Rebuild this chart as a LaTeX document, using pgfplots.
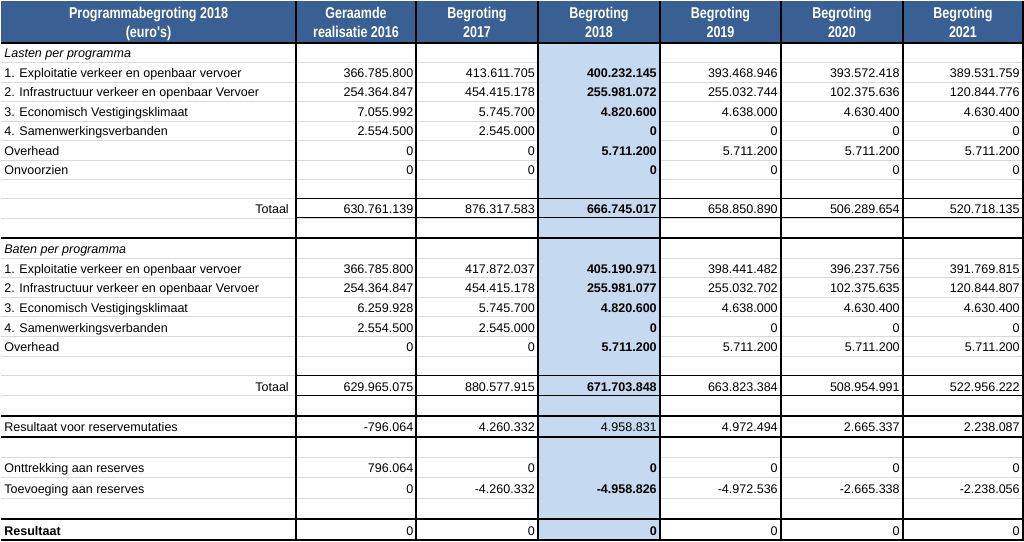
\documentclass[border=0pt]{standalone}
\usepackage{fontspec}
\setmainfont{Liberation Sans}
\usepackage{pgfplots}
\usepackage{pgfplotstable}
\pgfplotsset{compat=1.18}
\definecolor{hdr}{HTML}{3A6093}
\definecolor{blu}{HTML}{C5D9F1}
\definecolor{grd}{HTML}{D9D9D9}

% value rows: y = row centre (px), columns 2016 ... 2021
\pgfplotstableread[col sep=comma]{
y,a,b,c,d,e,f
71,366.785.800,413.611.705,\textbf{400.232.145},393.468.946,393.572.418,389.531.759
90.5,254.364.847,454.415.178,\textbf{255.981.072},255.032.744,102.375.636,120.844.776
110,7.055.992,5.745.700,\textbf{4.820.600},4.638.000,4.630.400,4.630.400
129.5,2.554.500,2.545.000,\textbf{0},0,0,0
149,0,0,\textbf{5.711.200},5.711.200,5.711.200,5.711.200
168.5,0,0,\textbf{0},0,0,0
207.5,630.761.139,876.317.583,\textbf{666.745.017},658.850.890,506.289.654,520.718.135
267,366.785.800,417.872.037,\textbf{405.190.971},398.441.482,396.237.756,391.769.815
286.5,254.364.847,454.415.178,\textbf{255.981.077},255.032.702,102.375.635,120.844.807
306,6.259.928,5.745.700,\textbf{4.820.600},4.638.000,4.630.400,4.630.400
326,2.554.500,2.545.000,\textbf{0},0,0,0
345.5,0,0,\textbf{5.711.200},5.711.200,5.711.200,5.711.200
385,629.965.075,880.577.915,\textbf{671.703.848},663.823.384,508.954.991,522.956.222
425.5,-796.064,4.260.332,4.958.831,4.972.494,2.665.337,2.238.087
466.5,796.064,0,\textbf{0},0,0,0
487,0,-4.260.332,\textbf{-4.958.826},-4.972.536,-2.665.338,-2.238.056
529,0,0,\textbf{0},0,0,0
}\vals

\pgfplotstableread[col sep=comma]{
y,t
51.7,\textit{Lasten per programma}
71,1. Exploitatie verkeer en openbaar vervoer
90.5,2. Infrastructuur verkeer en openbaar Vervoer
110,3. Economisch Vestigingsklimaat
129.5,4. Samenwerkingsverbanden
149,Overhead
168.5,Onvoorzien
247,\textit{Baten per programma}
267,1. Exploitatie verkeer en openbaar vervoer
286.5,2. Infrastructuur verkeer en openbaar Vervoer
306,3. Economisch Vestigingsklimaat
326,4. Samenwerkingsverbanden
345.5,Overhead
425.5,Resultaat voor reservemutaties
466.5,Onttrekking aan reserves
487,Toevoeging aan reserves
529,\textbf{Resultaat}
}\labs

\pgfplotstableread[col sep=comma]{
y,t
207.5,Totaal
385,Totaal
}\tots

\pgfplotstableread[col sep=comma]{
x,y,t
147.5,11.5,Programmabegroting 2018
147.5,30.5,(euro\textquotesingle s)
355,11.5,Geraamde
355,30.5,realisatie 2016
476,11.5,Begroting
476,30.5,2017
598,11.5,Begroting
598,30.5,2018
719.5,11.5,Begroting
719.5,30.5,2019
841,11.5,Begroting
841,30.5,2020
962,11.5,Begroting
962,30.5,2021
}\hdrs

\begin{document}
\begin{tikzpicture}
\begin{axis}[
  width=768pt, height=405pt, scale only axis,
  xmin=0, xmax=1024, ymin=0, ymax=540, y dir=reverse,
  hide axis, clip=false,
  nodes near coords={\scalebox{1}[1.15]{\pgfplotspointmeta}},
  every node near coord/.append style={font=\fontsize{9.4}{11}\selectfont,
     inner sep=0pt, text height=7.8pt, text depth=0pt, text=black},
]
% backgrounds
\fill[hdr] (0,0) rectangle (1022,42);
\pgfplotsinvokeforeach{61.5,81,100.5,120,139.5,159,178.5,197.5,217,237,257,277,296.5,316,336,355.5,375,395,415,436,456.5,477,497.5,518.5}{
  \draw[grd, line width=0.6pt] (0,#1) -- (1022,#1);
}
\fill[blu] (537,42) rectangle (659,540);
% black rules
\draw[black, line width=1.4pt] (0,42) -- (1022,42);
\draw[black, line width=1.4pt] (0,237) -- (1022,237);
\draw[black, line width=1.4pt] (0,415) -- (1022,415);
\draw[black, line width=1.4pt] (0,436) -- (1022,436);
\draw[black, line width=1.4pt] (0,518.5) -- (1022,518.5);
\draw[black, line width=1.6pt] (0,539.2) -- (1022,539.2);
\draw[black, line width=0.8pt] (295,197.5) -- (1022,197.5);
\draw[black, line width=0.8pt] (295,217) -- (1022,217);
\draw[black, line width=0.8pt] (295,375) -- (1022,375);
\draw[black, line width=0.8pt] (295,395) -- (1022,395);
\draw[black, line width=1.4pt] (295,0) -- (295,540);
\draw[black, line width=0.8pt] (415,0) -- (415,540);
\draw[black, line width=1.1pt] (537,0) -- (537,540);
\draw[black, line width=1.2pt] (659,0) -- (659,540);
\draw[black, line width=1.4pt] (780,0) -- (780,540);
\draw[black, line width=1.1pt] (902,0) -- (902,540);
\draw[black, line width=1.4pt] (1022,0) -- (1022,540);

% header texts
\addplot[mark=none, draw=none, nodes near coords={\scalebox{0.98}[1.22]{\pgfplotspointmeta}},
  point meta=explicit symbolic,
  every node near coord/.append style={anchor=center, text=white, text height=8.6pt,
     font=\fontsize{9.6}{11}\selectfont\bfseries}]
  table[x=x, y=y, meta=t] {\hdrs};
% row labels
\addplot[mark=none, draw=none, nodes near coords, point meta=explicit symbolic,
  every node near coord/.append style={anchor=west}]
  table[x expr=3, y=y, meta=t] {\labs};
\addplot[mark=none, draw=none, nodes near coords, point meta=explicit symbolic,
  every node near coord/.append style={anchor=east}]
  table[x expr=288, y=y, meta=t] {\tots};
% values
\addplot[mark=none, draw=none, nodes near coords, point meta=explicit symbolic,
  every node near coord/.append style={anchor=east}]
  table[x expr=412.5, y=y, meta=a] {\vals};
\addplot[mark=none, draw=none, nodes near coords, point meta=explicit symbolic,
  every node near coord/.append style={anchor=east}]
  table[x expr=534, y=y, meta=b] {\vals};
\addplot[mark=none, draw=none, nodes near coords, point meta=explicit symbolic,
  every node near coord/.append style={anchor=east}]
  table[x expr=656, y=y, meta=c] {\vals};
\addplot[mark=none, draw=none, nodes near coords, point meta=explicit symbolic,
  every node near coord/.append style={anchor=east}]
  table[x expr=777, y=y, meta=d] {\vals};
\addplot[mark=none, draw=none, nodes near coords, point meta=explicit symbolic,
  every node near coord/.append style={anchor=east}]
  table[x expr=899, y=y, meta=e] {\vals};
\addplot[mark=none, draw=none, nodes near coords, point meta=explicit symbolic,
  every node near coord/.append style={anchor=east}]
  table[x expr=1019, y=y, meta=f] {\vals};
\end{axis}
\end{tikzpicture}
\end{document}
